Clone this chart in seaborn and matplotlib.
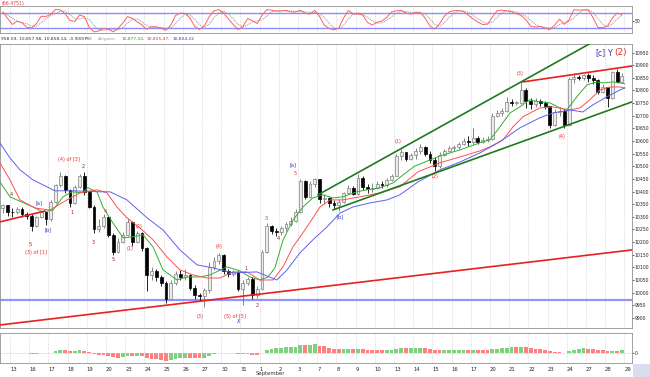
"""Dow hourly bars with Alligator lines, stochastic and histogram panels."""
import matplotlib
matplotlib.use("Agg")
import matplotlib.pyplot as plt
from matplotlib.patches import Rectangle
import numpy as np
import pandas as pd
import seaborn as sns

W, H = 650, 377

DAY_LABELS = ["13", "16", "17", "18", "19", "20", "23", "24", "25", "26", "27",
              "30", "31", "1", "2", "3", "7", "8", "9", "10", "13", "14", "15",
              "16", "17", "20", "21", "22", "23", "24", "27", "28", "29"]

# four bars per session, two bars of the previous session on the left edge
FIRST_OPEN = 10335
CLOSE = [
    10345, 10320,
    10318, 10330, 10312, 10303,   # Aug 13
    10262, 10300, 10318, 10290,   # 16
    10360, 10425, 10460, 10405,   # 17
    10355, 10420, 10462, 10400,   # 18
    10340, 10250, 10262, 10300,   # 19
    10230, 10160, 10200, 10230,   # 20
    10280, 10200, 10235, 10175,   # 23
    10070, 10085, 10060, 10040,   # 24
    9975, 10040, 10075, 10060,    # 25
    10070, 10020, 9990, 9985,     # 26
    10010, 10100, 10125, 10150,   # 27
    10085, 10075, 10080, 10015,   # 30
    10040, 10055, 9990, 10015,    # 31
    10160, 10262, 10245, 10238,   # Sep 1
    10255, 10270, 10285, 10320,   # 2
    10440, 10380, 10430, 10448,   # 3
    10370, 10375, 10355, 10345,   # 7
    10360, 10395, 10415, 10390,   # 8
    10455, 10420, 10410, 10415,   # 9
    10430, 10425, 10445, 10462,   # 10
    10540, 10555, 10530, 10544,   # 13
    10560, 10575, 10550, 10526,   # 14
    10500, 10545, 10560, 10572,   # 15
    10575, 10590, 10600, 10595,   # 16
    10610, 10598, 10605, 10607,   # 17
    10700, 10712, 10720, 10753,   # 20
    10750, 10752, 10800, 10760,   # 21
    10745, 10760, 10750, 10739,   # 22
    10665, 10715, 10720, 10662,   # 23
    10845, 10855, 10850, 10860,   # 24
    10850, 10840, 10795, 10812,   # 27
    10770, 10872, 10835, 10858,   # 28
]
HIGH = [
    10350, 10348,
    10335, 10340, 10338, 10320,
    10310, 10305, 10325, 10320,
    10365, 10430, 10478, 10465,
    10410, 10425, 10470, 10478,
    10405, 10345, 10290, 10310,
    10305, 10235, 10215, 10240,
    10295, 10285, 10245, 10240,
    10180, 10100, 10095, 10070,
    10045, 10050, 10085, 10090,
    10095, 10075, 10030, 10000,
    10020, 10120, 10140, 10155,
    10152, 10095, 10090, 10085,
    10050, 10062, 10060, 10025,
    10170, 10275, 10268, 10255,
    10262, 10280, 10300, 10330,
    10450, 10445, 10440, 10455,
    10450, 10390, 10380, 10365,
    10370, 10400, 10425, 10422,
    10470, 10462, 10430, 10435,
    10440, 10440, 10455, 10470,
    10550, 10570, 10558, 10552,
    10572, 10590, 10580, 10560,
    10535, 10555, 10570, 10580,
    10585, 10598, 10612, 10620,
    10652, 10620, 10615, 10618,
    10712, 10722, 10730, 10775,
    10765, 10760, 10838, 10810,
    10770, 10772, 10768, 10760,
    10740, 10725, 10735, 10725,
    10852, 10868, 10862, 10866,
    10870, 10860, 10845, 10825,
    10815, 10878, 10885, 10868,
]
LOW = [
    10315, 10305,
    10300, 10310, 10300, 10290,
    10245, 10258, 10295, 10268,
    10285, 10355, 10420, 10395,
    10338, 10350, 10415, 10385,
    10335, 10236, 10240, 10255,
    10222, 10150, 10155, 10195,
    10225, 10185, 10195, 10165,
    10005, 10050, 10045, 10025,
    9960, 9970, 10030, 10050,
    10050, 10010, 9975, 9965,
    9945, 10000, 10090, 10115,
    10075, 10060, 10065, 10005,
    9950, 10030, 9975, 9980,
    10010, 10155, 10232, 10225,
    10230, 10245, 10265, 10280,
    10315, 10370, 10375, 10420,
    10355, 10350, 10340, 10330,
    10325, 10355, 10390, 10385,
    10385, 10405, 10395, 10400,
    10410, 10415, 10420, 10440,
    10460, 10525, 10520, 10525,
    10530, 10550, 10540, 10515,
    10482, 10495, 10540, 10555,
    10560, 10570, 10585, 10580,
    10590, 10588, 10592, 10595,
    10605, 10695, 10700, 10715,
    10740, 10742, 10748, 10730,
    10725, 10735, 10738, 10725,
    10650, 10660, 10700, 10650,
    10660, 10830, 10840, 10842,
    10835, 10825, 10785, 10790,
    10735, 10765, 10830, 10832,
]

# Alligator lines (session units, price)
GREEN_T = [-0.52, 0.0, 1.2, 1.72, 2.24, 2.76, 3.23, 3.75, 4.06, 4.53, 4.84, 5.36,
           5.89, 6.41, 6.93, 7.45, 7.97, 8.7, 9.22, 9.9, 10.42, 11.3, 11.98, 12.5,
           13.02, 13.44, 13.8, 14.22, 14.74, 15.26, 15.78, 16.3, 16.82, 17.34,
           18.07, 18.6, 19.27, 19.95, 20.47, 21.09, 22.4, 23.44, 24.48, 25.0,
           25.52, 26.04, 26.56, 27.08, 27.6, 28.125, 28.65, 29.0, 29.53, 30.05,
           30.57, 30.89, 31.4, 31.77, 32.03]
GREEN_P = [10438, 10379, 10339, 10319, 10327, 10379, 10399, 10395, 10415, 10399,
           10339, 10276, 10217, 10221, 10229, 10181, 10090, 10050, 10062, 10062,
           10070, 10102, 10086, 10062, 10050, 10062, 10098, 10208, 10287, 10339,
           10375, 10387, 10375, 10379, 10399, 10407, 10415, 10434, 10466, 10501,
           10541, 10565, 10593, 10605, 10656, 10711, 10735, 10763, 10755, 10751,
           10731, 10723, 10775, 10822, 10834, 10830, 10834, 10830, 10826]
RED_T = [-0.52, 0.0, 0.52, 1.3, 2.08, 2.97, 3.65, 4.53, 5.05, 5.57, 6.09, 6.77,
         7.45, 8.18, 8.85, 9.53, 10.26, 10.94, 11.61, 12.34, 13.02, 13.7, 14.22,
         14.74, 15.47, 16.15, 16.67, 17.34, 18.23, 19.27, 20.31, 21.25, 22.4,
         23.44, 24.48, 25.0, 25.68, 26.2, 26.72, 27.6, 28.28, 29.17, 29.69, 30.2,
         30.73, 31.25, 31.77, 32.03]
RED_P = [10513, 10446, 10367, 10335, 10327, 10367, 10395, 10407, 10395, 10339,
         10296, 10256, 10209, 10141, 10090, 10070, 10058, 10058, 10082, 10082,
         10050, 10050, 10102, 10181, 10260, 10339, 10367, 10367, 10379, 10395,
         10419, 10478, 10514, 10537, 10561, 10577, 10605, 10656, 10696, 10731,
         10735, 10723, 10731, 10763, 10802, 10814, 10814, 10810]
BLUE_T = [-0.52, 0.0, 0.52, 1.2, 2.34, 3.28, 4.69, 5.21, 6.09, 7.14, 7.97, 8.85,
          9.74, 10.57, 11.61, 12.86, 13.9, 14.43, 15.1, 15.78, 16.51, 17.19,
          17.86, 18.75, 19.64, 20.31, 21.25, 22.4, 23.44, 24.48, 25.52, 26.56,
          27.6, 28.28, 29.17, 29.84, 30.36, 31.09, 31.77, 32.03]
BLUE_P = [10592, 10533, 10486, 10446, 10403, 10403, 10399, 10399, 10367, 10296,
          10248, 10169, 10110, 10098, 10078, 10082, 10050, 10090, 10157, 10209,
          10260, 10315, 10339, 10355, 10367, 10387, 10438, 10486, 10517, 10553,
          10597, 10652, 10692, 10711, 10723, 10715, 10743, 10775, 10802, 10810]

# trend lines: ((t0, t1), (p0, p1), colour)
TREND_LINES = [
    ((-0.52, 32.4), (9872, 10169), "#e82020"),
    ((-0.52, 1.82), (10280, 10323), "#e82020"),
    ((26.72, 32.4), (10834, 10897), "#e82020"),
    ((16.04, 31.0), (10387, 11019), "#1f7a1f"),
    ((16.82, 32.4), (10327, 10755), "#1f7a1f"),
]
SUPPORT = 9972

WAVE_LABELS = [
    ("4", 0.05, 10387, "d"), ("[a]", 1.51, 10355, "b"), ("5", 1.04, 10189, "d"),
    ("(3) of [1]", 1.35, 10157, "r"), ("[b]", 1.98, 10248, "b"),
    ("(4) of [3]", 3.07, 10525, "r"), ("2", 3.80, 10498, "d"),
    ("1", 3.23, 10316, "d"), ("3", 4.32, 10197, "d"), ("4", 4.95, 10320, "r"),
    ("5", 5.36, 10133, "d"), ("(1)", 6.25, 10173, "r"), ("(2)", 6.72, 10260, "r"),
    ("(3)", 9.90, 9904, "r"), ("(4)", 10.89, 10181, "r"),
    ("(5) of [5]", 11.72, 9904, "r"), ("X", 11.93, 9884, "b"),
    ("1", 12.29, 10094, "d"), ("2", 12.86, 9951, "d"), ("3", 13.33, 10292, "r"),
    ("4", 13.96, 10213, "d"), ("[a]", 14.74, 10506, "b"), ("5", 14.84, 10470, "r"),
    ("[b]", 17.19, 10300, "b"), ("(1)", 20.21, 10597, "r"), ("(2)", 22.14, 10458, "r"),
    ("(3)", 26.56, 10866, "r"), ("(4)", 28.75, 10616, "r"),
]
LABEL_COLORS = {"r": "#e83030", "d": "#9a2020", "b": "#3030c0"}

XLIM = (-0.52, 32.4)


def px_axes(fig, left, top, right, bottom):
    return fig.add_axes([left / W, 1 - bottom / H, (right - left) / W, (bottom - top) / H])


def style_panel(ax):
    for side, sp in ax.spines.items():
        sp.set_color("#909090")
        sp.set_linewidth(0.6)
        sp.set_linestyle((0, (1, 1)) if side != "right" else "-")
    ax.set_xlim(*XLIM)
    ax.set_xticks(range(len(DAY_LABELS)))
    ax.grid(axis="x", color="#b8b8b8", lw=0.5, ls=(0, (1, 2)))
    ax.grid(axis="y", visible=False)
    ax.yaxis.tick_right()
    ax.tick_params(axis="y", labelsize=3.3, length=1.5, pad=0.5, width=0.5)


sns.set_style("white")
plt.rcParams["font.family"] = ["DejaVu Sans"]

bars = pd.DataFrame({"close": CLOSE, "high": HIGH, "low": LOW})
bars["open"] = [FIRST_OPEN] + CLOSE[:-1]
bars["t"] = (np.arange(len(bars)) - 2) * 0.25 + 0.125
up = bars["close"] >= bars["open"]

fig = plt.figure(figsize=(W / 100, H / 100), dpi=100)
ax_st = px_axes(fig, 0, 6, 632, 33)
ax = px_axes(fig, 0, 44, 632, 328)
ax_h = px_axes(fig, 0, 333, 632, 363)

for a in (ax, ax_st, ax_h):
    style_panel(a)

# ---- main price panel
ax.axhline(SUPPORT, color="#7070ff", lw=1.6, alpha=0.75, zorder=1)

body_lo = np.minimum(bars["open"], bars["close"])
body_h = np.maximum((bars["close"] - bars["open"]).abs(), 3)
ax.vlines(bars["t"][up], bars["low"][up], bars["high"][up], color="#707070", lw=0.6, zorder=2)
ax.vlines(bars["t"][~up], bars["low"][~up], bars["high"][~up], color="black", lw=0.6, zorder=2)
ax.bar(bars["t"][up], body_h[up], bottom=body_lo[up], width=0.15,
       color="#ececec", edgecolor="#808080", linewidth=0.5, zorder=3)
ax.bar(bars["t"][~up], body_h[~up], bottom=body_lo[~up], width=0.15,
       color="black", edgecolor="black", linewidth=0.5, zorder=3)

ma = pd.concat([
    pd.DataFrame({"t": GREEN_T, "p": GREEN_P, "line": "green"}),
    pd.DataFrame({"t": RED_T, "p": RED_P, "line": "red"}),
    pd.DataFrame({"t": BLUE_T, "p": BLUE_P, "line": "blue"}),
])
sns.lineplot(data=ma, x="t", y="p", hue="line", estimator=None, sort=False,
             palette={"green": "#30b030", "red": "#ff5050", "blue": "#6060f0"},
             linewidth=0.7, legend=False, ax=ax, zorder=4)

for (t0, t1), (p0, p1), col in TREND_LINES:
    ax.plot([t0, t1], [p0, p1], color=col, lw=1.2, zorder=5)

for text, t, p, kind in WAVE_LABELS:
    ax.text(t, p, text, color=LABEL_COLORS[kind], fontsize=3.6,
            ha="center", va="center", zorder=6)
ax.text(30.73, 10949, "[c]", color="#3030c0", fontsize=5.5, ha="center", va="center")
ax.text(31.25, 10945, "Y", color="#3030c0", fontsize=5.5, ha="center", va="center")
ax.text(31.80, 10949, "(2)", color="#e83030", fontsize=6.5, ha="center", va="center")

ax.set_ylim(9860, 10984)
ax.set_yticks(range(9900, 10951, 50))
ax.set_yticklabels([str(v) for v in range(9900, 10951, 50)])
ax.set_xticklabels([])
ax.tick_params(axis="x", length=0)
ax.set_xlabel("")
ax.set_ylabel("")

# ---- stochastic panel
ll = bars["low"].rolling(5, min_periods=1).min()
hh = bars["high"].rolling(5, min_periods=1).max()
k_fast = 100 * (bars["close"] - ll) / (hh - ll)
stoch = pd.DataFrame({"t": bars["t"],
                      "k": k_fast.rolling(2, min_periods=1).mean()})
stoch["d"] = stoch["k"].rolling(3, min_periods=1).mean()
ax_st.axhline(80, color="#7070ff", lw=1.0, alpha=0.8)
ax_st.axhline(20, color="#7070ff", lw=1.0, alpha=0.8)
sns.lineplot(data=stoch, x="t", y="d", color="#909090", lw=0.7,
             linestyle=(0, (1, 1)), ax=ax_st)
sns.lineplot(data=stoch, x="t", y="k", color="#ff6060", lw=0.7, ax=ax_st)
ax_st.set_ylim(0, 110)
ax_st.set_yticks([50])
ax_st.set_xticklabels([])
ax_st.tick_params(axis="x", length=0)
ax_st.set_xlabel("")
ax_st.set_ylabel("")

# ---- histogram panel
osc = bars["close"].ewm(span=6).mean() - bars["close"].ewm(span=16).mean()
rising = osc.diff().fillna(0) >= 0
ax_h.axhline(0, color="#c0c0c0", lw=0.5, ls=(0, (1, 1)))
ax_h.bar(bars["t"], osc, width=0.2,
         color=np.where(rising, "#7fd07f", "#ff8080"), linewidth=0)
neg = max(-osc.min(), 1)
ax_h.set_ylim(-1.3 * neg, 2.6 * neg)
ax_h.set_yticks([0])
ax_h.set_xticklabels(DAY_LABELS, fontsize=3.8)
for lab in ax_h.get_xticklabels():
    lab.set_ha("left")
ax_h.tick_params(axis="x", length=2, pad=1, width=0.5)
ax_h.set_xlabel("")
ax_h.set_ylabel("")

# ---- header texts
fig.text(2 / W, 1 - 3.5 / H, "(66.4751)", color="#e83030", fontsize=3.3, va="center")
hy = 1 - 39 / H
fig.text(1 / W, hy, "958.59, 10,857.98, 10,858.14, -0.900(PE)", color="#303030",
         fontsize=3.2, va="center")
fig.text(97 / W, hy, "Alligator", color="#a0a0a0", fontsize=3.2, va="center",
         style="italic")
fig.text(122 / W, hy, "10,877.04,", color="#20a020", fontsize=3.2, va="center")
fig.text(147 / W, hy, "10,855.47,", color="#e83030", fontsize=3.2, va="center")
fig.text(173 / W, hy, "10,804.22", color="#3030e0", fontsize=3.2, va="center")
fig.text(270 / W, 1 - 373.5 / H, "September", color="#303030", fontsize=3.8,
         ha="center", va="center")
fig.patches.append(Rectangle((633 / W, 0), 17 / W, 13 / H, transform=fig.transFigure,
                             facecolor="#dcdcf0", edgecolor="none"))

fig.savefig("out.png", dpi=100)
